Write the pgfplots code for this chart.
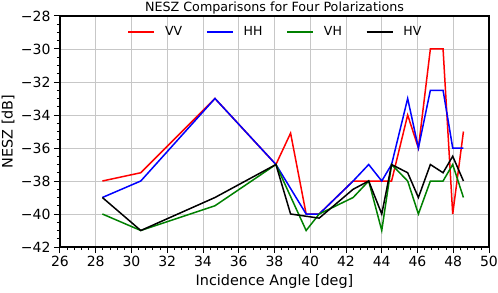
\documentclass[border=0pt]{standalone}
\usepackage{fontspec}
\setmainfont{DejaVu Sans}
\usepackage{pgfplots}
\pgfplotsset{compat=1.18}
\usetikzlibrary{calc}
\definecolor{mplgreen}{RGB}{0,128,0}

\pgfplotstableread{
x y
28.37 -38
30.52 -37.5
34.67 -33
38.08 -37
38.90 -35.1
39.77 -40
40.50 -40
42.40 -38
44.55 -38
45.45 -34
46.05 -36
46.72 -30
47.43 -30
47.97 -40
48.57 -35
}\vv
\pgfplotstableread{
x y
28.37 -39
30.52 -38
34.67 -33
38.08 -37
39.77 -40
40.50 -40
42.40 -38
43.27 -37
44.00 -38
44.55 -37
45.45 -33
46.05 -36
46.72 -32.5
47.43 -32.5
47.97 -36
48.57 -36
}\hh
\pgfplotstableread{
x y
28.37 -40
30.52 -41
34.67 -39.5
38.08 -37
39.77 -41
40.50 -40
42.40 -39
43.27 -38
44.00 -41
44.55 -37
45.45 -38
46.05 -40
46.72 -38
47.43 -38
47.97 -37
48.57 -39
}\vh
\pgfplotstableread{
x y
28.37 -39
30.52 -41
34.67 -39
38.08 -37
38.90 -40
40.50 -40.25
42.40 -38.5
43.27 -38
44.00 -40
44.55 -37
45.45 -37.5
46.05 -39
46.72 -37
47.43 -37.5
47.97 -36.5
48.57 -38
}\hv

\begin{document}
\begin{tikzpicture}
\begin{axis}[
  name=ax,
  scale only axis,
  width=429pt, height=231pt,
  xmin=26, xmax=50, ymin=-42, ymax=-28,
  xtick={26,28,...,50},
  ytick={-42,-40,-38,-36,-34,-32,-30,-28},
  yticklabels={−42,−40,−38,−36,−34,−32,−30,−28},
  minor x tick num=4, minor y tick num=3,
  tick align=outside,
  major tick length=6pt, minor tick length=3pt,
  xtick pos=bottom, ytick pos=left,
  every tick/.style={black, line width=1pt},
  grid=major,
  major grid style={black!22, line width=0.8pt},
  axis line style={line width=1.6pt},
  /pgf/number format/assume math mode=true,
  ticklabel style={font=\fontsize{14}{14}\selectfont},
  every axis title shift=0pt,
  title={NESZ Comparisons for Four Polarizations},
  title style={font=\fontsize{12.7}{13}\selectfont, at={(axis description cs:0.5,1)}, anchor=base, yshift=4.5pt},
  xlabel={Incidence Angle [deg]},
  ylabel={NESZ [dB]},
  label style={font=\fontsize{14.4}{15}\selectfont},
  xlabel style={at={(axis description cs:0.5,-0.1688)}, anchor=base},
  ylabel style={at={(axis description cs:-0.1212,0.5)}, anchor=center},
  legend columns=4,
  legend style={draw=none, fill=none, at={(axis description cs:0.5,0.931)}, anchor=center,
    font=\fontsize{12.5}{13}\selectfont,
    nodes={inner sep=0pt},
    /tikz/every odd column/.append style={column sep=10pt},
    /tikz/every even column/.append style={column sep=24pt}},
  legend image code/.code={\draw[#1] (0pt,0pt) -- (26pt,0pt);},
  every axis plot/.append style={line width=1.5pt},
]
\addplot[red] table {\vv};
\addlegendentry{VV}
\addplot[blue] table {\hh};
\addlegendentry{HH}
\addplot[mplgreen] table {\vh};
\addlegendentry{VH}
\addplot[black] table {\hv};
\addlegendentry{HV}
\end{axis}
\pgfresetboundingbox
\path ($(ax.south west)+(-60pt,-45pt)$) rectangle ($(ax.north east)+(9pt,16pt)$);
\end{tikzpicture}
\end{document}
